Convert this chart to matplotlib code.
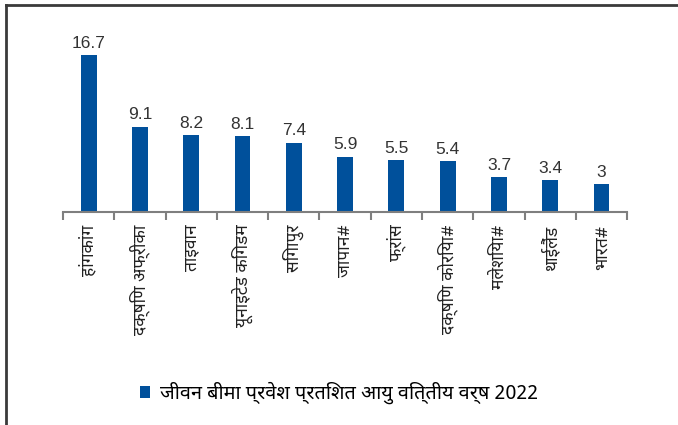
import matplotlib
matplotlib.use("Agg")
import matplotlib.pyplot as plt
from matplotlib import font_manager
from matplotlib.lines import Line2D

countries = ["हांगकांग", "दक्षिण अफ्रीका", "ताइवान", "यूनाइटेड किंगडम", "सिंगापुर",
             "जापान#", "फ्रांस", "दक्षिण कोरिया#", "मलेशिया#", "थाईलैंड", "भारत#"]
penetration = [16.7, 9.1, 8.2, 8.1, 7.4, 5.9, 5.5, 5.4, 3.7, 3.4, 3.0]
value_labels = ["16.7", "9.1", "8.2", "8.1", "7.4", "5.9", "5.5", "5.4", "3.7", "3.4", "3"]
series_name = "जीवन बीमा प्रवेश प्रतिशत आयु वित्तीय वर्ष 2022"

# pick a font that has devanagari glyphs
installed = set(f.name for f in font_manager.fontManager.ttflist)
hindi_font = "DejaVu Sans"
for name in ["Noto Sans Devanagari", "Hind", "Mukta", "Poppins", "Anek Devanagari", "Ek Mukta", "Arya"]:
    if name in installed:
        hindi_font = name
        break
plt.rcParams["font.family"] = [hindi_font, "DejaVu Sans"]

bar_color = "#00509b"
axis_color = "#7f7f7f"

fig = plt.figure(figsize=(6.78, 4.25), dpi=100)
ax = fig.add_axes([0.093, 0.501, 0.832, 0.398])

x = list(range(len(countries)))
bars = ax.bar(x, penetration, width=0.31, color=bar_color, label=series_name)

for xi, v, lab in zip(x, penetration, value_labels):
    ax.annotate(lab, (xi, v), xytext=(0, 3), textcoords="offset points",
                ha="center", va="bottom", fontsize=12.5, color="#333333",
                family=["Liberation Sans", "DejaVu Sans"])

ax.set_xlim(-0.5, len(countries) - 0.5)
ax.set_ylim(0, 18)

for s in ["top", "right", "left"]:
    ax.spines[s].set_visible(False)
ax.spines["bottom"].set_color(axis_color)
ax.spines["bottom"].set_linewidth(1.5)
ax.set_yticks([])

ax.set_xticks(x)
ax.set_xticklabels(countries, rotation=90, fontsize=12.5, color="#222222", va="top")
ax.tick_params(axis="x", which="major", length=0, pad=9)
ax.set_xticks([i - 0.5 for i in range(len(countries) + 1)], minor=True)
ax.tick_params(axis="x", which="minor", length=6, width=1.5, color=axis_color)

fig.legend(handles=[bars], labels=[series_name], loc="center",
           bbox_to_anchor=(0.5, 0.075), frameon=False, fontsize=14.3,
           handlelength=0.55, handleheight=0.55, handletextpad=0.5)

# outer frame: only top and left edges
fig.add_artist(Line2D([5.5 / 678, 1], [1 - 4.5 / 425, 1 - 4.5 / 425], color="#3a3a3a", lw=2))
fig.add_artist(Line2D([5.5 / 678, 5.5 / 678], [0, 1 - 4.5 / 425], color="#3a3a3a", lw=2))

fig.savefig("out.png", dpi=100)
